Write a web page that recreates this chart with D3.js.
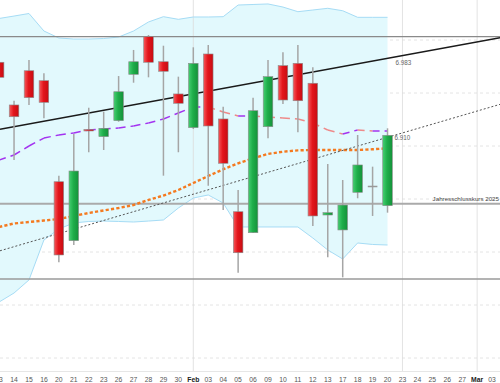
<!DOCTYPE html>
<html>
<head>
<meta charset="utf-8">
<script src="https://cdn.jsdelivr.net/npm/d3@7.9.0/dist/d3.min.js"></script>
<style>
    body { margin: 0; background: #fff; }
    svg { display: block; font-family: "Liberation Sans", Arial, sans-serif; }
</style>
</head>
<body>
<svg id="chart" width="500" height="383"></svg>
<script>
// trading days shown on the axis (Jan 13 .. Mar 03)
const dates = ["13", "14", "15", "16", "20", "21", "22", "23", "26", "27", "28", "29", "30",
    "Feb", "03", "04", "05", "06", "09", "10", "11", "12", "13", "17", "18", "19", "20",
    "23", "24", "25", "26", "27", "Mar", "03"];

// candles
const opens  = [6979.0, 6938.7, 6971.0, 6961.6, 6866.3, 6810.7, 6915.6, 6908.8, 6923.9, 6967.6, 7003.1, 6979.5, 6949.1,
    6917.3, 6986.8, 6925.5, 6838.0, 6818.2, 6918.2, 6975.8, 6978.0, 6959.2, 6834.9, 6820.8, 6856.3, 6862.5, 6843.7];
const highs  = [6985.8, 6942.7, 6981.1, 6968.6, 6872.0, 6911.3, 6936.1, 6932.4, 6966.0, 6990.6, 7004.7, 6994.6, 6965.4,
    6993.1, 6995.3, 6937.1, 6858.5, 6945.6, 6981.1, 6988.4, 6995.3, 6974.2, 6883.0, 6867.9, 6910.4, 6880.5, 6916.7];
const lows   = [6958.5, 6886.8, 6938.7, 6926.1, 6790.3, 6806.6, 6894.1, 6896.2, 6922.9, 6959.7, 6964.8, 6872.0, 6894.1,
    6916.0, 6862.5, 6839.6, 6780.5, 6817.9, 6907.3, 6939.6, 6912.9, 6824.5, 6795.0, 6776.1, 6850.7, 6834.0, 6837.1];
const closes = [6964.8, 6927.6, 6945.6, 6941.2, 6797.2, 6876.4, 6914.2, 6916.7, 6951.2, 6979.5, 6979.0, 6970.5, 6940.3,
    6978.0, 6918.9, 6883.7, 6799.3, 6933.3, 6965.4, 6943.4, 6942.7, 6834.0, 6837.1, 6844.3, 6882.1, 6862.5, 6910.1];

// bollinger bands
const bbUpper = [7020.3, 7022.6, 7025.0, 7008.5, 7001.9, 7000.9, 7000.9, 7001.4, 7002.8, 7008.5, 7017.0, 7022.0, 7019.5,
    7021.7, 7021.7, 7022.0, 7033.0, 7033.5, 7034.0, 7031.1, 7026.7, 7028.3, 7029.9, 7027.6, 7021.4, 7021.4, 7021.4];
const bbLower = [6752.8, 6761.3, 6773.6, 6811.3, 6821.7, 6827.4, 6828.8, 6829.2, 6828.8, 6828.3, 6829.2, 6830.2, 6841.5,
    6850.9, 6853.8, 6846.2, 6823.6, 6823.6, 6823.6, 6823.6, 6823.6, 6813.2, 6801.9, 6793.4, 6808.5, 6807.1, 6806.6];

// moving averages
const smaShort = [6886.8, 6891.5, 6900.0, 6907.5, 6910.4, 6912.3, 6915.1, 6916.0, 6917.0, 6918.9, 6921.7, 6925.5, 6931.1,
    6936.8, 6936.8, 6932.1, 6928.3, 6928.3, 6927.4, 6926.4, 6925.5, 6921.7, 6915.1, 6911.3, 6915.1, 6914.2, 6914.2];
const smaLong = [6823.6, 6826.9, 6828.3, 6829.7, 6831.1, 6834.0, 6836.8, 6839.2, 6841.5, 6844.3, 6849.1, 6853.3, 6858.5,
    6865.1, 6871.7, 6878.0, 6883.7, 6888.4, 6892.5, 6894.6, 6895.9, 6896.2, 6896.2, 6896.2, 6896.2, 6896.9, 6897.8];

// trend lines: [day index, price]
const trendUpper = [[0, 6915.6], [33, 7000.7]];
const trendLower = [[0, 6800.9], [33, 6937.1]];

// horizontal levels
const levelTop = 7003.1;
const levelBottom = 6774.5;
const yearClose = 6845.5;

const gridPrices = [6700, 6750, 6800, 6850, 6900, 6950, 7000];
const gridDays = [13, 27, 32];

const width = 500;
const height = 383;
const svg = d3.select('#chart');

let x = d3.scaleLinear().domain([0, dates.length - 1]).range([-0.9, 492.1]);
let y = d3.scaleLinear().domain([6700, 7000]).range([358, 40]);
let fmt = d3.format(',.0f');
let deFmt = (v) => fmt(v).replace(',', '.');

let defs = svg.append('defs');
function addGrad(id, c0, c1, c2) {
    let g = defs.append('linearGradient').attr('id', id).attr('x1', 0).attr('x2', 1).attr('y1', 0).attr('y2', 0);
    g.append('stop').attr('offset', '0%').attr('stop-color', c0);
    g.append('stop').attr('offset', '45%').attr('stop-color', c1);
    g.append('stop').attr('offset', '100%').attr('stop-color', c2);
}
addGrad('redGrad', '#f6595c', '#e3161c', '#c70c12');
addGrad('greenGrad', '#45cf72', '#1fae4a', '#14913a');

// grid
svg.append('g').selectAll('line').data(gridPrices).join('line')
    .attr('x1', 0).attr('x2', width)
    .attr('y1', (d) => y(d)).attr('y2', (d) => y(d))
    .attr('stroke', '#e4e4e4').attr('stroke-dasharray', '3,3');

// bollinger band area
let idx = d3.range(closes.length);
let area = d3.area()
    .x((i) => x(i))
    .y0((i) => y(bbLower[i]))
    .y1((i) => y(bbUpper[i]));
svg.append('path').attr('d', area(idx)).attr('fill', '#e2f9fd');

svg.append('g').selectAll('line').data(gridDays).join('line')
    .attr('x1', (d) => x(d)).attr('x2', (d) => x(d))
    .attr('y1', 0).attr('y2', 372)
    .attr('stroke', '#dcdcdc').attr('stroke-opacity', 0.8);

let bandLine = (arr) => d3.line().x((i) => x(i)).y((i) => y(arr[i]))(idx);
svg.append('path').attr('d', bandLine(bbUpper)).attr('fill', 'none').attr('stroke', '#a6dcf5').attr('stroke-width', 1);
svg.append('path').attr('d', bandLine(bbLower)).attr('fill', 'none').attr('stroke', '#a6dcf5').attr('stroke-width', 1);

// horizontal levels
function hLine(v, color, w) {
    svg.append('line')
        .attr('x1', 0).attr('x2', width)
        .attr('y1', y(v)).attr('y2', y(v))
        .attr('stroke', color).attr('stroke-width', w);
}
hLine(levelTop, '#8a8a8a', 1.2);
hLine(levelBottom, '#9a9a9a', 1.5);
hLine(yearClose, '#aaaaaa', 2);

// long moving average (orange)
svg.append('path')
    .attr('d', bandLine(smaLong))
    .attr('fill', 'none')
    .attr('stroke', '#f47a20')
    .attr('stroke-width', 2.4)
    .attr('stroke-dasharray', '3.2,2.2');

// short moving average, purple when rising, pink when falling
idx.slice(1).forEach((i) => {
    svg.append('line')
        .attr('x1', x(i - 1)).attr('y1', y(smaShort[i - 1]))
        .attr('x2', x(i)).attr('y2', y(smaShort[i]))
        .attr('stroke', smaShort[i] >= smaShort[i - 1] ? '#a333f0' : '#ee8a8a')
        .attr('stroke-width', 1.5)
        .attr('stroke-dasharray', '7,5');
});

// trend lines, stretched over the full width
function trend(pts, color, w, dash) {
    let slope = (pts[1][1] - pts[0][1]) / (pts[1][0] - pts[0][0]);
    let i0 = x.invert(0);
    let i1 = x.invert(width);
    let p = (i) => pts[0][1] + slope * (i - pts[0][0]);
    svg.append('line')
        .attr('x1', x(i0)).attr('y1', y(p(i0)))
        .attr('x2', x(i1)).attr('y2', y(p(i1)))
        .attr('stroke', color).attr('stroke-width', w)
        .attr('stroke-dasharray', dash);
}
trend(trendLower, '#555', 1, '2,2');
trend(trendUpper, '#1a1a1a', 1.5, null);

// candles
let candles = svg.append('g').selectAll('g').data(idx).join('g');
candles.append('line')
    .attr('x1', (i) => x(i)).attr('x2', (i) => x(i))
    .attr('y1', (i) => y(highs[i])).attr('y2', (i) => y(lows[i]))
    .attr('stroke', '#a5a5a5').attr('stroke-width', 1.5);
candles.append('rect')
    .attr('x', (i) => x(i) - 4.8)
    .attr('width', 9.6)
    .attr('y', (i) => y(Math.max(opens[i], closes[i])))
    .attr('height', (i) => Math.max(1.5, Math.abs(y(opens[i]) - y(closes[i]))))
    .attr('fill', (i) => closes[i] > opens[i] ? 'url(#greenGrad)' : closes[i] < opens[i] ? 'url(#redGrad)' : '#999')
    .attr('stroke', (i) => closes[i] === opens[i] ? 'none' : '#8c8c8c')
    .attr('stroke-width', 0.6);

// value labels
let last = closes.length - 1;
let upperAtEnd = trendUpper[0][1] + (trendUpper[1][1] - trendUpper[0][1]) / 33 * (last + 0.5);
svg.append('text')
    .attr('x', x(last) + 8).attr('y', y(upperAtEnd) + 7.5)
    .attr('font-size', 6.3).attr('fill', '#666')
    .text(deFmt(6983));
svg.append('text')
    .attr('x', x(last) + 7).attr('y', y(closes[last]) + 5)
    .attr('font-size', 6.3).attr('fill', '#666')
    .text(deFmt(closes[last]));
svg.append('text')
    .attr('x', width - 1).attr('y', y(yearClose) - 3)
    .attr('text-anchor', 'end')
    .attr('font-size', 6.2).attr('fill', '#444')
    .text('Jahresschlusskurs 2025');

// x axis
svg.append('line')
    .attr('x1', 0).attr('x2', width).attr('y1', 371.5).attr('y2', 371.5)
    .attr('stroke', '#e6e6e6');
let labels = svg.append('g').selectAll('text').data(dates).join('text')
    .attr('x', (d, i) => x(i))
    .attr('y', 382)
    .attr('text-anchor', 'middle')
    .attr('font-size', 6.8)
    .attr('fill', (d) => d.length > 2 ? '#222' : '#555')
    .attr('font-weight', (d) => d.length > 2 ? 'bold' : 'normal')
    .text((d) => d);
</script>
</body>
</html>
